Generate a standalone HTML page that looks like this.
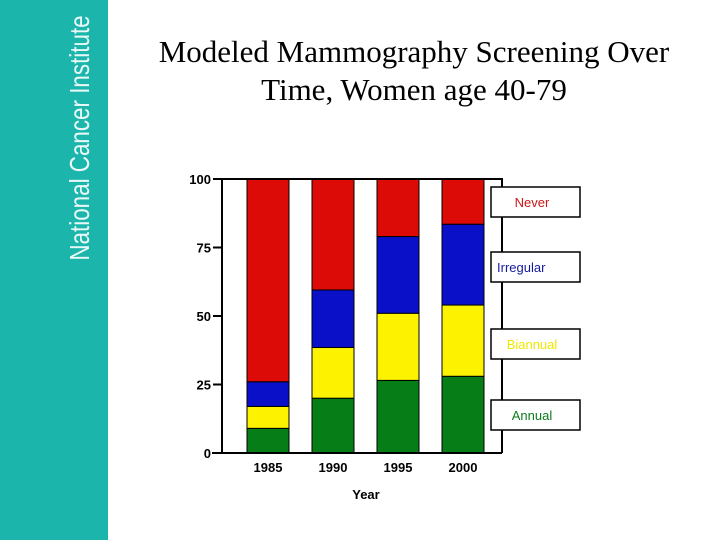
<!DOCTYPE html>
<html><head><meta charset="utf-8"><style>
body{margin:0;width:720px;height:540px;background:#fff;position:relative;overflow:hidden;font-family:"Liberation Sans",sans-serif}
#side{position:absolute;left:0;top:0;width:108px;height:540px;background:#1cb5ac}
#side span{position:absolute;left:80px;top:138px;transform:translate(-50%,-50%) rotate(-90deg) scaleX(0.8);color:#e8f8f6;font-size:28px;white-space:nowrap}
#title{position:absolute;left:120px;width:588px;top:33px;text-align:center;font-family:"Liberation Serif",serif;font-size:31px;line-height:38px;white-space:nowrap}
</style></head><body>
<div id="side"><span>National Cancer Institute</span></div>
<div id="title">Modeled Mammography Screening Over<br>Time, Women age 40-79</div>
<svg id="chart" width="720" height="540" style="position:absolute;left:0;top:0"></svg>
<script>
const years=["1985","1990","1995","2000"];
const annual=[9,20,26.5,28];
const biannual=[8,18.5,24.5,26];
const irregular=[9,21,28,29.5];
const never=[74,40.5,21,16.5];
const yTicks=[0,25,50,75,100];
const seriesNames=["Annual","Biannual","Irregular","Never"];
const series=[annual,biannual,irregular,never];
const colors=["#077d17","#fdf200","#0a0fc8","#dd0b07"];
const textColors=["#0c7a1a","#f0e800","#141a9c","#c81818"];
const NS="http://www.w3.org/2000/svg";
const svg=document.getElementById('chart');
const y0=453,y1=179,x0=222,x1=502;
const yS=v=>y0-(v/100)*(y0-y1);
const xS=i=>247+i*65;
const bw=42;
function mk(t,a,p){const e=document.createElementNS(NS,t);for(const k in a)e.setAttribute(k,a[k]);(p||svg).appendChild(e);return e;}
years.forEach((yr,i)=>{
  let cum=0;
  series.forEach((s,j)=>{
    const r=mk('rect',{x:xS(i),y:yS(cum+s[i]),width:bw,height:yS(cum)-yS(cum+s[i]),fill:colors[j],stroke:'#000','stroke-width':1});
    
    
    cum+=s[i];
  });
  const t=mk('text',{x:xS(i)+bw/2,y:472,'text-anchor':'middle','font-size':13,'font-weight':'bold'});
  t.textContent=yr;
  
  
});
const frame=mk('path',{d:`M${x0},${y0}V${y1}H${x1}V${y0}`,fill:'none',stroke:'#000','stroke-width':2});


const xa=mk('line',{x1:x0-10,y1:y0,x2:x1,y2:y0,stroke:'#000','stroke-width':2});


yTicks.forEach(v=>{
  const l=mk('line',{x1:x0-9,x2:x0,y1:yS(v),y2:yS(v),stroke:'#000','stroke-width':2});
  
  
  const t=mk('text',{x:x0-11,y:yS(v)+5,'text-anchor':'end','font-size':13,'font-weight':'bold'});
  t.textContent=v;
  
  
});
const xt=mk('text',{x:366,y:499,'text-anchor':'middle','font-size':13,'font-weight':'bold'});
xt.textContent='Year';


const legY=[400,329,252,187];
seriesNames.forEach((n,j)=>{
  const g=mk('g',{});
  
  
  mk('rect',{x:491,y:legY[j],width:89,height:30,fill:'#fff',stroke:'#000','stroke-width':1.5},g);
  const t=mk('text',{x:j==2?497:532,y:legY[j]+20,'text-anchor':j==2?'start':'middle','font-size':13,fill:textColors[j]},g);
  t.textContent=n;
});
</script>
</body></html>
